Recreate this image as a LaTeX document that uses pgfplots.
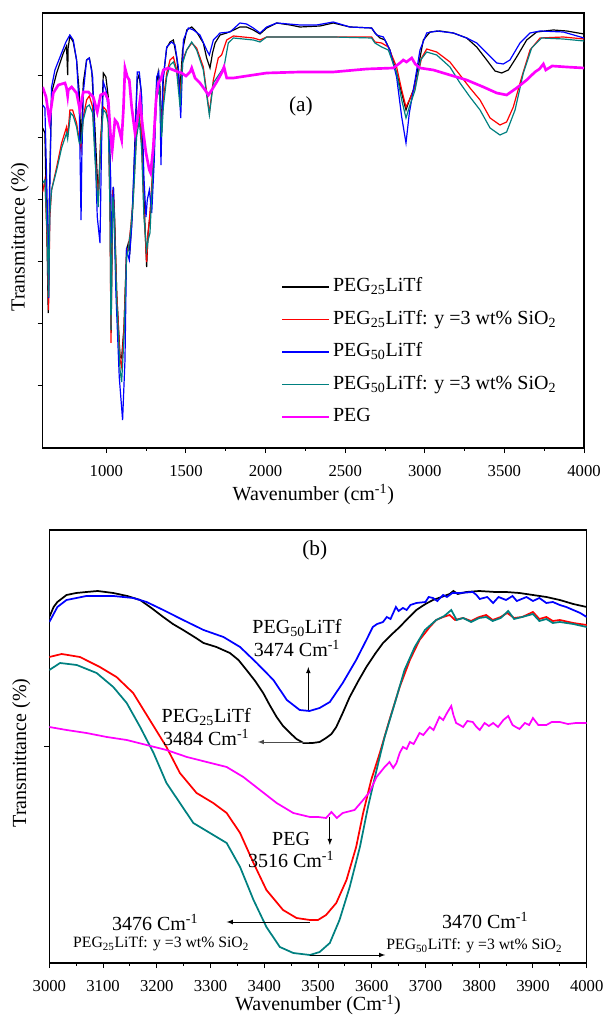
\documentclass[border=0pt]{standalone}
\usepackage{fontspec}
\setmainfont{Liberation Serif}
\usepackage{pgfplots}
\pgfplotsset{compat=1.18}
\definecolor{tealc}{RGB}{0,128,128}
\definecolor{magc}{RGB}{255,0,255}
\definecolor{bluec}{RGB}{0,0,255}
\definecolor{redc}{RGB}{255,0,0}

\pgfplotsset{
ftir/.style={
  scale only axis,
  anchor=south west,
  clip=true,
  tick align=outside,
  tick pos=left,
  major tick length=3.8pt,
  minor tick length=2.2pt,
  minor x tick num=1,
  axis line style={line width=0.9pt},
  every tick/.style={black, line width=0.7pt},
  yticklabels={},
  ymin=0,
  /pgf/number format/assume math mode=true,
  /pgf/number format/1000 sep={},
  xticklabel style={font=\fontsize{12.5}{14}\selectfont, yshift=-5.5pt},
},
}
\newcommand{\cmi}{cm\textsuperscript{-1}}
\newcommand{\Cmi}{Cm\textsuperscript{-1}}

\begin{document}
\begin{tikzpicture}
\useasboundingbox (0,0) rectangle (453pt,763.5pt);

% ---------- (a) full spectra ----------
\begin{axis}[ftir,
  at={(32pt,427.5pt)}, width=406pt, height=326.25pt,
  xmin=600, xmax=4000, ymax=435,
  xtick={1000,1500,2000,2500,3000,3500,4000},
  ytick={62.1,124.3,186.4,248.6,310.7,372.9},
  xlabel={Wavenumber (\cmi)},
  ylabel={Transmittance (\%)},
  every axis x label/.style={at={(axis description cs:0.5,-0.108)}, anchor=center, font=\fontsize{15}{18}\selectfont},
  every axis y label/.style={at={(axis description cs:-0.042,0.485)}, anchor=center, rotate=90, font=\fontsize{15}{18}\selectfont},
  legend style={at={(rel axis cs:0.44,0.40)}, anchor=north west, draw=none, fill=none,
    inner sep=0pt, font=\fontsize{15}{18}\selectfont, row sep=5.4pt,
    nodes={text height=11pt, text depth=4pt, inner sep=2pt}},
  legend cell align=left,
  legend image code/.code={\draw[#1] (0pt,0pt) -- (35pt,0pt);},
]
\addlegendimage{black, line width=1pt}
\addlegendentry{PEG\textsubscript{25}LiTf}
\addlegendimage{redc, line width=1pt}
\addlegendentry{PEG\textsubscript{25}LiTf: y =3 wt\% SiO\textsubscript{2}}
\addlegendimage{bluec, line width=1pt}
\addlegendentry{PEG\textsubscript{50}LiTf}
\addlegendimage{tealc, line width=1pt}
\addlegendentry{PEG\textsubscript{50}LiTf: y =3 wt\% SiO\textsubscript{2}}
\addlegendimage{magc, line width=2pt}
\addlegendentry{PEG}
\addplot[black, line width=0.9pt, forget plot] table {
600 320
614 315
628 200
635 135
642 250
656 355
688 375
730 395
750 402
754 385
757 373
760 400
771 412
792 406
813 388
830 355
840 306
848 330
855 365
876 388
893 390
908 378
928 321
949 251
958 280
966 305
981 375
997 371
1012 351
1022 300
1030 115
1036 200
1044 261
1052 230
1065 155
1086 91
1096 90
1111 121
1127 198
1138 205
1148 198
1165 238
1180 311
1194 368
1205 373
1218 358
1228 288
1243 221
1253 181
1262 215
1274 231
1295 281
1316 365
1326 376
1337 361
1347 315
1358 371
1379 400
1400 406
1421 408
1442 390
1463 360
1479 398
1505 418
1536 421
1567 416
1609 405
1630 390
1651 380
1667 395
1683 405
1714 413
1756 415
1800 418
1839 421
1880 421
1923 418
1965 414
2007 420
2070 425
2154 423
2216 421
2342 422
2425 425
2530 421
2666 420
2687 415
2719 410
2750 408
2781 398
2823 375
2855 355
2882 338
2897 345
2928 358
2959 381
2991 408
3033 416
3095 417
3179 415
3263 410
3326 401
3389 388
3441 377
3483 375
3525 378
3577 391
3640 408
3703 416
3807 418
3891 417
4000 414
};
\addplot[redc, line width=0.9pt, forget plot] table {
600 256
614 268
630 200
637 138
645 230
656 258
688 281
719 305
750 321
757 311
771 338
788 338
813 325
830 308
841 298
855 331
876 348
893 352
914 341
928 298
949 248
964 311
981 341
998 338
1012 328
1023 238
1029 105
1035 200
1040 258
1048 245
1065 155
1086 88
1096 81
1111 121
1127 195
1138 200
1153 221
1169 251
1190 318
1207 335
1222 305
1236 238
1253 186
1262 215
1274 235
1295 288
1316 355
1333 361
1347 325
1358 348
1379 375
1400 388
1421 391
1442 378
1463 350
1479 388
1505 398
1536 405
1567 400
1609 381
1647 335
1672 368
1703 390
1724 393
1756 408
1798 412
1923 410
1965 408
2007 411
2216 411
2425 411
2666 411
2687 406
2729 405
2771 401
2823 381
2855 358
2882 341
2903 348
2939 361
2980 390
3012 399
3075 396
3158 386
3221 373
3284 360
3347 348
3410 330
3472 323
3514 326
3556 341
3609 371
3661 398
3724 410
3870 411
4000 409
};
\addplot[bluec, line width=0.9pt, forget plot] table {
600 343
614 340
628 250
638 150
645 260
656 361
677 378
709 391
746 406
771 413
792 408
813 388
830 338
836 280
841 228
846 290
855 355
876 388
893 390
914 371
928 305
943 231
960 205
970 305
981 366
998 358
1012 338
1027 271
1033 205
1044 261
1060 155
1081 71
1102 28
1117 88
1127 198
1144 188
1159 221
1180 305
1194 376
1207 376
1222 351
1236 271
1249 231
1257 248
1270 258
1285 235
1301 288
1316 371
1329 376
1337 348
1343 283
1354 365
1379 401
1410 406
1431 403
1452 381
1467 330
1484 408
1515 420
1547 418
1588 413
1630 398
1647 393
1672 408
1714 415
1777 416
1839 425
1881 424
1923 420
1965 415
2007 421
2070 425
2216 423
2321 423
2425 426
2530 421
2666 420
2698 413
2740 411
2781 398
2823 371
2855 331
2882 305
2903 335
2939 368
2970 398
3012 415
3075 417
3179 415
3263 410
3326 405
3389 395
3452 385
3493 384
3535 388
3598 405
3661 415
3724 417
3870 416
4000 410
};
\addplot[tealc, line width=0.9pt, forget plot] table {
600 265
614 268
630 210
637 151
645 235
656 258
688 278
719 300
750 315
757 309
776 335
792 332
813 321
830 305
841 305
855 328
876 341
893 343
914 335
928 291
949 241
964 305
981 338
998 335
1012 325
1023 238
1029 118
1035 200
1040 251
1048 238
1065 148
1086 78
1096 66
1111 111
1127 191
1138 198
1153 218
1169 248
1190 311
1207 328
1222 298
1236 231
1253 198
1262 208
1274 215
1295 288
1316 351
1333 358
1347 311
1358 341
1379 371
1400 383
1421 386
1442 376
1463 341
1479 385
1505 398
1536 406
1567 398
1609 378
1647 333
1672 365
1714 375
1739 381
1766 405
1798 410
1923 408
1965 406
2007 411
2216 411
2425 411
2666 410
2687 405
2729 401
2771 398
2823 375
2855 348
2882 330
2903 341
2939 358
2974 388
3012 396
3075 393
3158 381
3221 365
3284 351
3347 338
3410 320
3472 313
3514 316
3567 338
3619 375
3671 400
3734 410
3870 409
4000 407
};
\addplot[magc, line width=2pt, forget plot] table {
600 361
621 351
642 328
667 355
698 363
740 365
750 360
757 352
761 358
782 361
813 355
834 338
855 356
887 356
918 351
943 336
964 353
991 355
1012 348
1027 311
1037 298
1054 328
1069 325
1081 318
1096 308
1107 338
1117 380
1132 371
1144 368
1159 341
1180 315
1197 331
1211 348
1228 321
1249 295
1270 278
1278 275
1295 301
1312 348
1327 365
1341 368
1358 378
1389 380
1421 378
1452 376
1473 375
1500 372
1526 376
1536 380
1557 370
1588 365
1620 358
1641 353
1662 358
1693 366
1724 375
1739 381
1756 370
1798 370
1881 372
2007 375
2216 376
2425 376
2635 379
2802 380
2844 385
2865 388
2885 386
2918 390
2940 384
2970 380
3054 378
3158 373
3263 368
3368 361
3452 355
3514 353
3577 360
3640 368
3692 376
3720 379
3745 384
3760 378
3800 382
3891 381
4000 380
};
\node[font=\fontsize{16}{19}\selectfont] at (axis cs:2222,342) {(a)};
\end{axis}

% ---------- (b) O-H region ----------
\begin{axis}[ftir,
  at={(37pt,41.25pt)}, width=403pt, height=324.75pt,
  xmin=3000, xmax=4000, ymax=433,
  xtick={3000,3100,...,4000},
  ytick={216.5},
  xlabel={Wavenumber (\Cmi)},
  ylabel={Transmittance (\%)},
  every axis x label/.style={at={(axis description cs:0.5,-0.097)}, anchor=center, font=\fontsize{15}{18}\selectfont},
  every axis y label/.style={at={(axis description cs:-0.052,0.485)}, anchor=center, rotate=90, font=\fontsize{15}{18}\selectfont},
]
\addplot[black, line width=1.3pt] table {
3000 346
3008 356
3015 361
3032 368
3050 370
3069 371
3090 372
3119 370
3145 367
3169 363
3190 355
3212 346
3230 339
3249 333
3270 326
3287 320
3311 316
3336 310
3352 303
3367 293
3383 282
3398 270
3410 258
3423 246
3435 237
3448 230
3460 224
3473 220
3490 220
3503 221
3515 225
3525 229
3534 236
3546 250
3559 266
3575 282
3590 296
3606 309
3621 320
3636 328
3652 336
3668 345
3683 353
3700 359
3714 363
3730 366
3745 369
3752 372
3760 369
3776 371
3800 372
3830 371
3850 371
3875 370
3900 368
3925 366
3950 363
3975 359
4000 356
};
\addplot[bluec, line width=1.3pt] table {
3000 341
3015 356
3032 363
3069 367
3119 367
3156 365
3181 361
3212 353
3249 343
3287 333
3324 326
3355 316
3386 300
3417 283
3442 263
3466 253
3484 252
3503 255
3522 261
3546 280
3571 303
3590 323
3602 336
3610 339
3621 341
3628 346
3635 344
3640 350
3645 356
3650 352
3658 355
3665 353
3672 358
3683 360
3700 361
3706 366
3714 365
3722 362
3733 368
3740 366
3750 370
3764 370
3788 371
3795 368
3801 364
3815 366
3826 360
3836 366
3850 363
3862 367
3870 362
3888 366
3900 362
3912 365
3925 360
3937 361
3950 358
3962 356
3975 353
3988 350
4000 346
};
\addplot[redc, line width=1.3pt] table {
3000 306
3023 309
3057 306
3094 296
3125 286
3156 270
3187 243
3218 216
3243 190
3274 170
3305 160
3330 150
3355 130
3380 100
3404 73
3435 53
3460 45
3485 43
3500 43
3515 48
3534 60
3553 83
3571 116
3584 150
3599 183
3615 210
3633 243
3652 276
3671 303
3689 323
3708 336
3720 343
3733 346
3745 348
3755 343
3770 345
3785 342
3800 346
3813 348
3825 343
3840 346
3852 350
3865 345
3880 346
3900 351
3912 344
3925 346
3937 342
3950 343
3975 340
4000 338
};
\addplot[tealc, line width=1.3pt] table {
3000 293
3020 300
3051 298
3088 290
3119 276
3144 260
3169 236
3194 210
3218 180
3243 160
3268 140
3299 130
3330 120
3355 96
3380 63
3404 36
3429 16
3454 10
3485 8
3503 11
3522 20
3540 43
3559 76
3578 116
3593 156
3609 193
3624 226
3643 260
3661 293
3680 316
3699 333
3720 343
3735 347
3748 353
3758 343
3770 345
3785 341
3800 345
3813 346
3825 342
3840 345
3854 352
3865 344
3880 346
3900 349
3912 342
3925 344
3937 340
3950 341
3975 339
4000 336
};
\addplot[magc, line width=1.3pt] table {
3000 236
3032 233
3069 230
3107 226
3144 223
3181 218
3218 213
3256 206
3293 201
3330 196
3361 186
3392 173
3423 160
3454 150
3485 146
3500 146
3515 145
3525 151
3535 145
3546 150
3568 153
3584 163
3596 171
3609 186
3624 196
3633 201
3640 195
3646 200
3652 210
3658 216
3665 214
3671 221
3678 219
3689 230
3696 228
3708 236
3715 233
3726 246
3733 243
3740 250
3748 257
3752 248
3757 240
3764 238
3770 236
3778 242
3788 241
3795 236
3801 233
3810 240
3818 237
3826 240
3835 236
3845 243
3854 247
3862 238
3868 236
3875 234
3885 240
3893 238
3900 245
3910 238
3925 238
3935 241
3950 241
3965 239
3980 240
4000 240
};
\node[font=\fontsize{16}{19}\selectfont] at (axis cs:3494,413) {(b)};
\node[font=\fontsize{15}{17}\selectfont, align=center] at (axis cs:3461,325) {PEG\textsubscript{50}LiTf\\3474 \Cmi};
\draw[-latex, line width=0.6pt] (axis cs:3482,253) -- (axis cs:3482,296);
\node[font=\fontsize{15}{17}\selectfont, align=center] at (axis cs:3292,236) {PEG\textsubscript{25}LiTf\\3484 \Cmi};
\draw[-latex, line width=0.6pt, black!70] (axis cs:3484,221) -- (axis cs:3388,221);
\node[font=\fontsize{15}{17}\selectfont, align=center] at (axis cs:3450,113) {PEG\\3516 \Cmi};
\draw[-latex, line width=0.6pt] (axis cs:3522,146) -- (axis cs:3522,118);
\node[font=\fontsize{15}{17}\selectfont] at (axis cs:3197,41) {3476 \Cmi};
\node[font=\fontsize{11.8}{13}\selectfont] at (axis cs:3208,19) {PEG\textsubscript{25}LiTf: y =3 wt\% SiO\textsubscript{2}};
\draw[-latex, line width=0.6pt] (axis cs:3485,41) -- (axis cs:3330,41);
\node[font=\fontsize{15}{17}\selectfont] at (axis cs:3811,43) {3470 \Cmi};
\node[font=\fontsize{11.8}{13}\selectfont] at (axis cs:3791,17) {PEG\textsubscript{50}LiTf: y =3 wt\% SiO\textsubscript{2}};
\draw[-latex, line width=0.6pt] (axis cs:3485,8) -- (axis cs:3625,8);
\end{axis}
\end{tikzpicture}
\end{document}
